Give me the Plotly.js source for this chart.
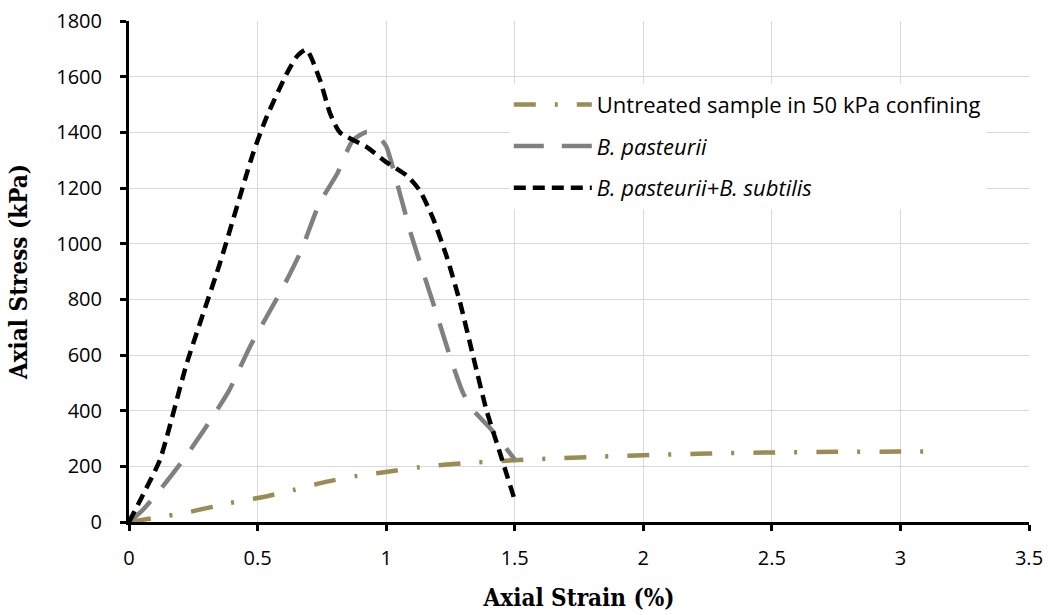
<!DOCTYPE html>
<html>
<head>
<meta charset="utf-8">
<script src="https://cdn.plot.ly/plotly-3.0.1.min.js"></script>
<style>html,body{margin:0;padding:0;background:#fff;}#chart{width:1049px;height:615px;}</style>
</head>
<body>
<div id="chart"></div>
<script>
const seriesNames = ["Untreated sample in 50 kPa confining", "<i>B. pasteurii</i>", "<i>B. pasteurii+B. subtilis</i>"];

const strainUntreated = [0, 0.1, 0.24, 0.39, 0.5, 0.64, 0.77, 0.89, 1.0, 1.13, 1.26, 1.5, 1.75, 2.0, 2.25, 2.5, 2.75, 3.0, 3.12];
const stressUntreated = [0, 15, 37, 68, 86, 115, 145, 166, 180, 197, 208, 222, 232, 240, 246, 250, 252, 253, 254];

const strainPasteurii = [0, 0.05, 0.12, 0.21, 0.30, 0.39, 0.47, 0.60, 0.67, 0.74, 0.81, 0.87, 0.925, 0.97, 1.0, 1.05, 1.1, 1.15, 1.2, 1.25, 1.3, 1.35, 1.4, 1.5];
const stressPasteurii = [0, 40, 115, 222, 342, 474, 629, 845, 976, 1144, 1252, 1371, 1401, 1385, 1350, 1192, 1024, 880, 737, 590, 462, 390, 342, 225];

const strainMixed = [0, 0.05, 0.12, 0.225, 0.354, 0.483, 0.535, 0.613, 0.655, 0.69, 0.743, 0.782, 0.82, 0.925, 1.0, 1.08, 1.13, 1.18, 1.236, 1.287, 1.339, 1.39, 1.443, 1.5];
const stressMixed = [0, 90, 223, 571, 931, 1326, 1455, 1610, 1675, 1697, 1587, 1468, 1400, 1347, 1293, 1245, 1192, 1096, 952, 790, 593, 402, 247, 79];

const xTicks = [0, 0.5, 1, 1.5, 2, 2.5, 3, 3.5];
const yTicks = [0, 200, 400, 600, 800, 1000, 1200, 1400, 1600, 1800];

const tickFont = {family: '"Open Sans", Lato, sans-serif', size: 20, color: '#000'};
const titleFont = {family: '"DejaVu Serif Condensed", "Liberation Serif", serif', size: 24, color: '#000', weight: 'bold'};

const traces = [
  {x: strainUntreated, y: stressUntreated, name: seriesNames[0], mode: 'lines', legendgroup: 'a',
   line: {color: '#9a8c55', width: 4.5, dash: '22px,19px,3px,19px', shape: 'spline', smoothing: 0.8}},
  {x: strainPasteurii, y: stressPasteurii, name: seriesNames[1], mode: 'lines', legendgroup: 'b',
   line: {color: '#808080', width: 4.5, dash: '30px,18px', shape: 'spline', smoothing: 0.6}},
  {x: strainMixed, y: stressMixed, name: seriesNames[2], mode: 'lines', legendgroup: 'c',
   line: {color: '#000000', width: 4.5, dash: '12px,7px', shape: 'spline', smoothing: 0.6}}
];

const layout = {
  width: 1049, height: 615,
  margin: {l: 129, r: 20, t: 21, b: 93},
  paper_bgcolor: '#fff', plot_bgcolor: '#fff',
  showlegend: true,
  legend: {x: 0.422, y: 0.875, xanchor: 'left', yanchor: 'top', bgcolor: '#fff',
           font: {family: '"Open Sans", Lato, sans-serif', size: 22, color: '#000'},
           traceorder: 'grouped', tracegroupgap: 10, itemwidth: 78},
  xaxis: {range: [0, 3.5], tickvals: xTicks, ticktext: xTicks.map(String),
          showgrid: true, gridcolor: '#d9d9d9', gridwidth: 1,
          showline: true, linecolor: '#000', linewidth: 3,
          ticks: 'outside', ticklen: 6, tickwidth: 3, tickcolor: '#000',
          ticklabelstandoff: 10,
          zeroline: false, tickfont: tickFont,
          title: {text: 'Axial Strain (%)', standoff: 20, font: titleFont}},
  yaxis: {range: [0, 1800], tickvals: yTicks, ticktext: yTicks.map(String),
          showgrid: true, gridcolor: '#d9d9d9', gridwidth: 1,
          showline: true, linecolor: '#000', linewidth: 3,
          ticks: 'outside', ticklen: 6, tickwidth: 3, tickcolor: '#000',
          ticklabelstandoff: 14,
          zeroline: false, tickfont: tickFont,
          title: {text: 'Axial Stress (kPa)', standoff: 22, font: titleFont}}
};

Plotly.newPlot('chart', traces, layout, {displayModeBar: false, staticPlot: true});
</script>
</body>
</html>
